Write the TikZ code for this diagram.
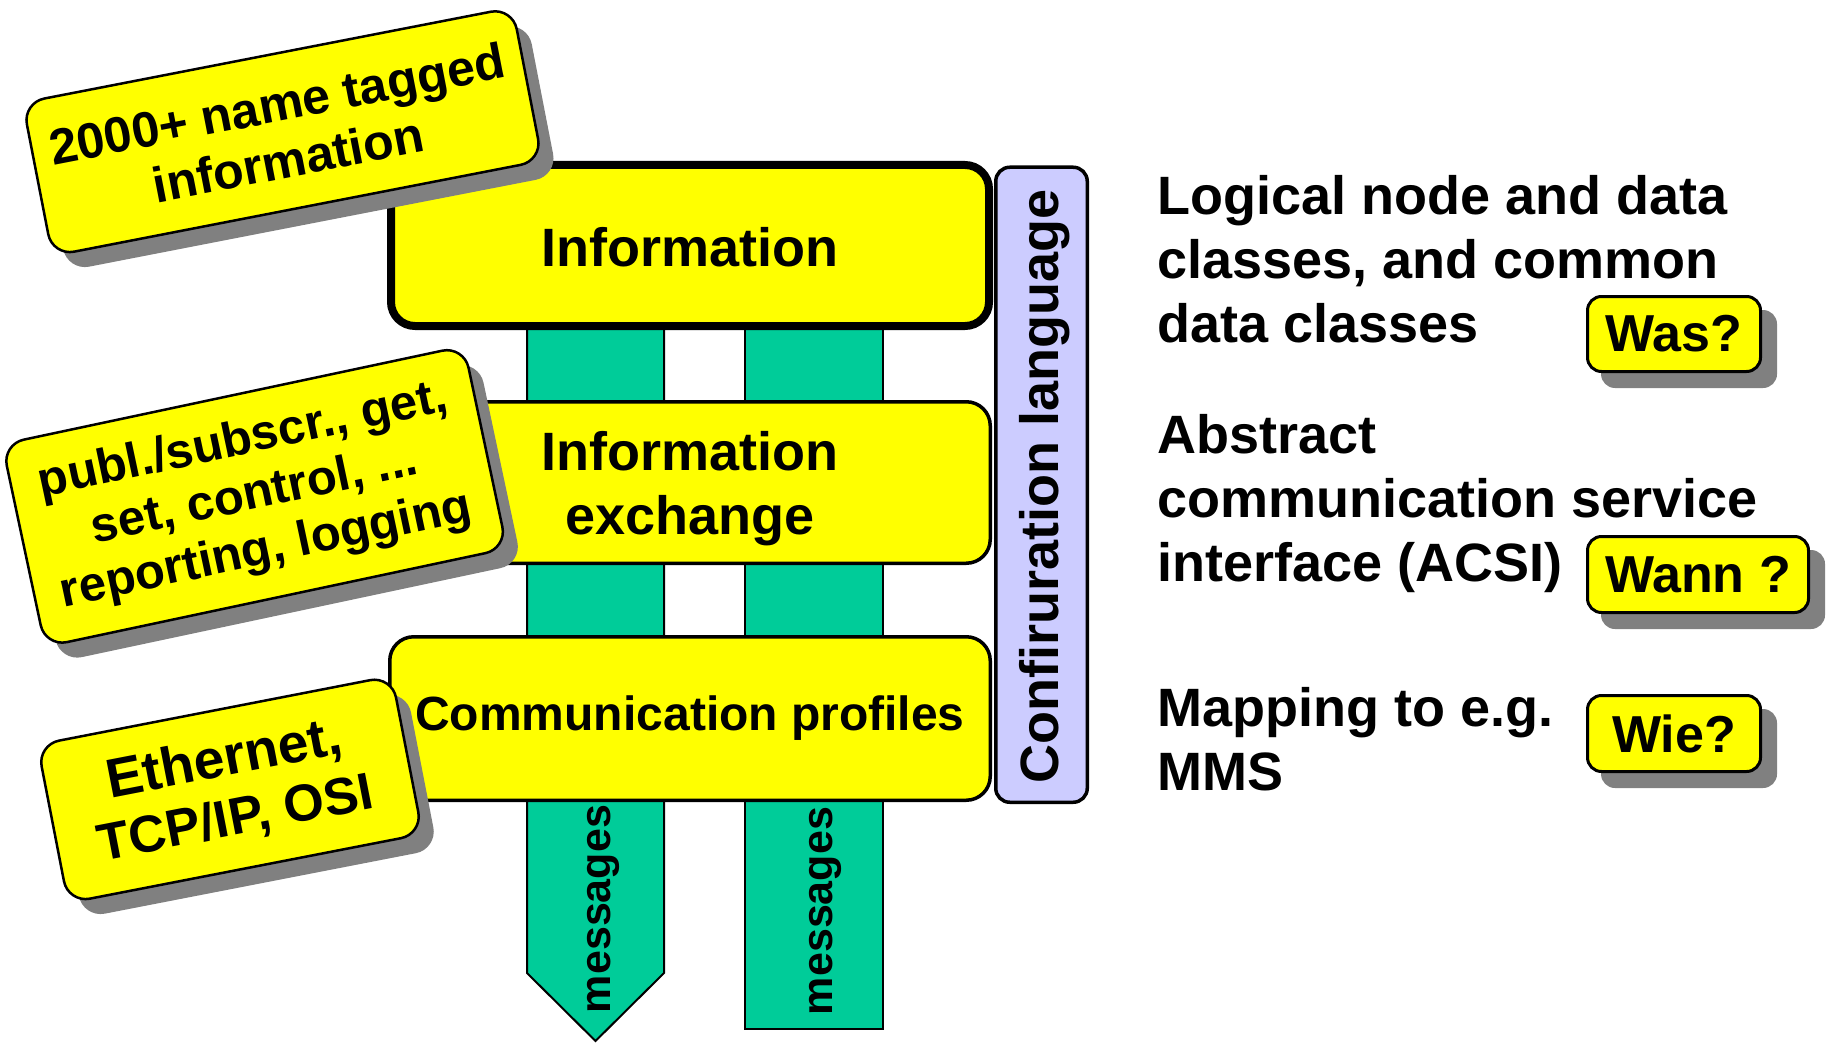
\documentclass[tikz,border=0pt]{standalone}
\usepackage{fontspec}
\setmainfont{Liberation Sans}
\definecolor{boxyellow}{HTML}{FFFF00}
\definecolor{streamteal}{HTML}{00CC99}
\definecolor{barlilac}{HTML}{CCCCFF}
\definecolor{shadowgray}{HTML}{808080}
\tikzset{
  layerbox/.style={draw=black, line width=3.5pt, fill=boxyellow,
    rounded corners=24pt, inner sep=0pt, align=center,
    font=\bfseries\fontsize{54}{64}\selectfont},
  stream/.style={draw=black, line width=2pt, fill=streamteal},
  callout/.style={draw=black, line width=2.5pt, fill=boxyellow,
    rounded corners=22pt, inner sep=0pt, align=center},
  calloutshadow/.style={fill=shadowgray, rounded corners=22pt, inner sep=0pt},
  tag/.style={draw=black, line width=3pt, fill=boxyellow, rounded corners=14pt,
    inner sep=0pt, font=\bfseries\fontsize{52}{60}\selectfont},
  tagshadow/.style={fill=shadowgray, rounded corners=14pt, inner sep=0pt},
  sidetext/.style={anchor=north west, inner sep=0pt, align=left,
    font=\bfseries\fontsize{54}{64}\selectfont},
  msg/.style={rotate=90, inner sep=0pt, font=\bfseries\fontsize{43}{50}\selectfont}
}
\begin{document}
\begin{tikzpicture}[x=1pt,y=-1pt]
\useasboundingbox (0,0) rectangle (1827,1043);

% message streams running through the layers
\coordinate (s1nw) at (527,310);
\coordinate (s1ne) at (664,310);
\coordinate (s1se) at (664,973);
\coordinate (s1tip) at (595.5,1041);
\coordinate (s1sw) at (527,973);
\draw[stream] (s1nw) -- (s1ne) -- (s1se) -- (s1tip) -- (s1sw) -- cycle;
\coordinate (s2nw) at (745,310);
\coordinate (s2se) at (883,1029);
\draw[stream] (s2nw) rectangle (s2se);
\node[msg] (msg1) at (603,909) {messages};
\node[msg] (msg2) at (825,911) {messages};

% configuration language bar
\node[draw=black, line width=3.5pt, fill=barlilac, rounded corners=14pt,
      minimum width=91.5pt, minimum height=635pt, inner sep=0pt]
      (conf) at (1041.5,484.75) {};
\node[rotate=90, inner sep=0pt, font=\bfseries\fontsize{54}{64}\selectfont]
      (conftext) at (1045,486) {Confiruration language};

% the three layers
\node[layerbox, line width=8pt, minimum width=598pt, minimum height=161pt]
      (info) at (690,245.5) {};
\node (infotext) at (690,247.5) [inner sep=0pt, font=\bfseries\fontsize{54}{64}\selectfont] {Information};
\node[layerbox, minimum width=600.5pt, minimum height=161.5pt]
      (exch) at (690,482.5) {};
\node (exchtext) at (690,488.5) [inner sep=0pt, align=center,
      font=\bfseries\fontsize{54}{64}\selectfont] {Information\\exchange};
\node[layerbox, minimum width=600.5pt, minimum height=163.5pt,
      font=\bfseries\fontsize{48}{56}\selectfont]
      (comm) at (690,718.5) {Communication profiles};

% tilted callouts
\node[calloutshadow, rotate=11, minimum width=499pt, minimum height=156pt]
      (ashadow) at (297.5,146.7) {};
\node[callout, rotate=11, minimum width=499pt, minimum height=156pt,
      font=\bfseries\fontsize{50}{57}\selectfont]
      (names) at (282.5,131.7) {2000+ name tagged\\information};

\node[calloutshadow, rotate=12, minimum width=472pt, minimum height=207pt]
      (bshadow) at (269.6,511.4) {};
\node[callout, rotate=12, minimum width=472pt, minimum height=207pt,
      font=\bfseries\fontsize{49}{56}\selectfont]
      (services) at (254.6,496.4) {publ./subscr., get,\\set, control, ...\\reporting, logging};

\node[calloutshadow, rotate=11, minimum width=361pt, minimum height=161pt]
      (cshadow) at (245,804.4) {};
\node[callout, rotate=11, minimum width=361pt, minimum height=161pt,
      font=\bfseries\fontsize{52}{60}\selectfont]
      (nets) at (230,789.4) {{\fontsize{55}{60}\selectfont Ethernet,}\\TCP/IP, OSI};

% descriptions on the right
\node[sidetext] (what) at (1157,175) {Logical node and data\\classes, and common\\data classes};
\node[sidetext] (when) at (1157,414) {Abstract\\communication service\\interface (ACSI)};
\node[sidetext] (how) at (1157,687) {Mapping to e.g.\\MMS};

% question tags
\node[tagshadow, minimum width=176pt, minimum height=78pt] (wasshadow) at (1689,349) {};
\node[tag, minimum width=173pt, minimum height=75pt] (was) at (1674,334) {Was?};
\node[tagshadow, minimum width=224pt, minimum height=79pt] (wannshadow) at (1713,589.5) {};
\node[tag, minimum width=221pt, minimum height=76pt] (wann) at (1698,574.5) {Wann ?};
\node[tagshadow, minimum width=176pt, minimum height=79pt] (wieshadow) at (1689,748.5) {};
\node[tag, minimum width=173pt, minimum height=76pt] (wie) at (1674,733.5) {Wie?};
\end{tikzpicture}
\end{document}
